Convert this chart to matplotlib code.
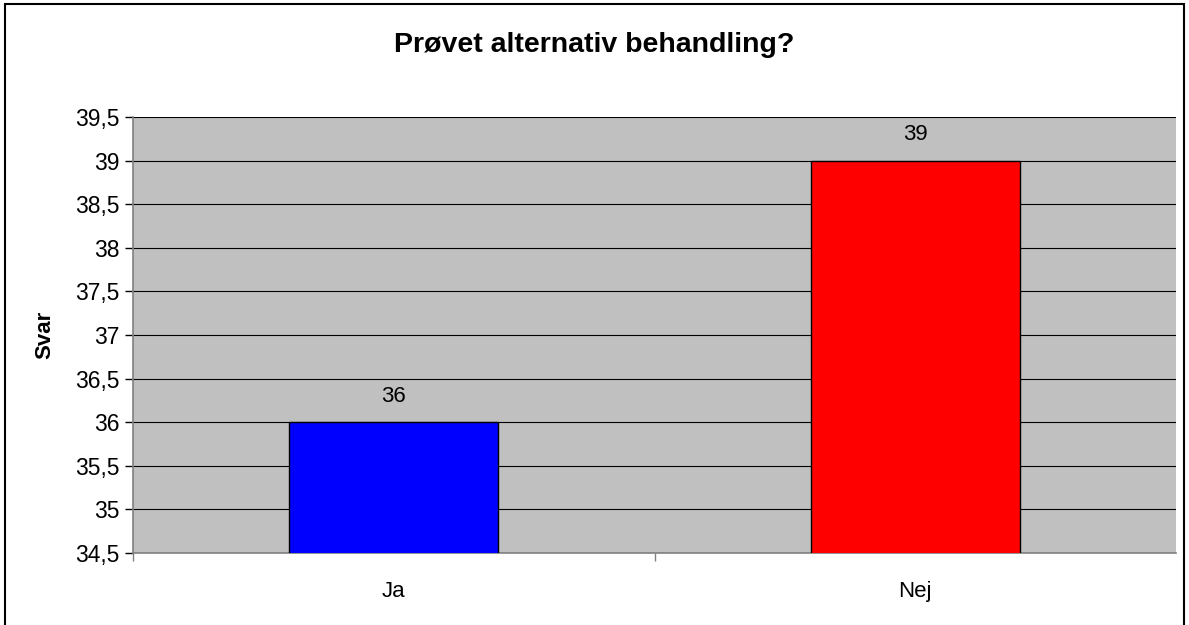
import matplotlib
matplotlib.use("Agg")
import matplotlib.pyplot as plt
from matplotlib.patches import Rectangle
from matplotlib.ticker import MultipleLocator, FuncFormatter, FixedLocator

categories = ["Ja", "Nej"]
values = [36, 39]
colors = ["#0000FF", "#FF0000"]
title = "Prøvet alternativ behandling?"
ylabel = "Svar"

plt.rcParams['font.family'] = ['Liberation Sans', 'DejaVu Sans']

fig = plt.figure(figsize=(11.89, 6.25), dpi=100)
ax = fig.add_axes([133/1189, 1-553/625, (1176-133)/1189, (553-117)/625])
ax.set_facecolor("#C0C0C0")

x = list(range(len(categories)))
bars = ax.bar(x, values, width=0.4, color=colors, edgecolor="black", linewidth=1, zorder=3)
ax.set_ylim(34.5, 39.5)
ax.set_xlim(-0.5, len(categories) - 0.5)

ax.yaxis.set_major_locator(MultipleLocator(0.5))
ax.yaxis.set_major_formatter(FuncFormatter(lambda v, p: (f"{v:g}").replace(".", ",")))
ax.grid(axis="y", color="black", linewidth=0.8, zorder=1)
ax.set_axisbelow(True)

ax.set_xticks(x)
ax.set_xticklabels(categories, fontsize=16)
ax.tick_params(axis="x", length=0, pad=20)
ax.xaxis.set_minor_locator(FixedLocator([i + 0.5 for i in range(len(categories) - 1)] + [-0.5]))
ax.tick_params(axis="x", which="minor", length=6, width=1, color="#808080")
ax.tick_params(axis="y", length=6, width=1, labelsize=16.5, color="black", pad=4)

for s in ["top", "right"]:
    ax.spines[s].set_visible(False)
ax.spines["left"].set_color("#808080")
ax.spines["bottom"].set_color("#808080")
ax.spines["left"].set_linewidth(1.2)
ax.spines["bottom"].set_linewidth(1.2)

for xi, v in zip(x, values):
    ax.annotate(f"{v}", (xi, v), xytext=(0, 11), textcoords="offset points",
                ha="center", va="bottom", fontsize=16)

ax.set_ylabel(ylabel, fontsize=16, fontweight="bold", labelpad=14)
fig.text(594/1189, 1-45/625, title, ha="center", va="center", fontsize=20.5, fontweight="bold")

fig.patches.append(Rectangle((5/1189, -0.01), 1179/1189, 1 - 4/625 + 0.01, transform=fig.transFigure,
                             fill=False, edgecolor="black", linewidth=1.5))

fig.savefig("out.png", dpi=100)
